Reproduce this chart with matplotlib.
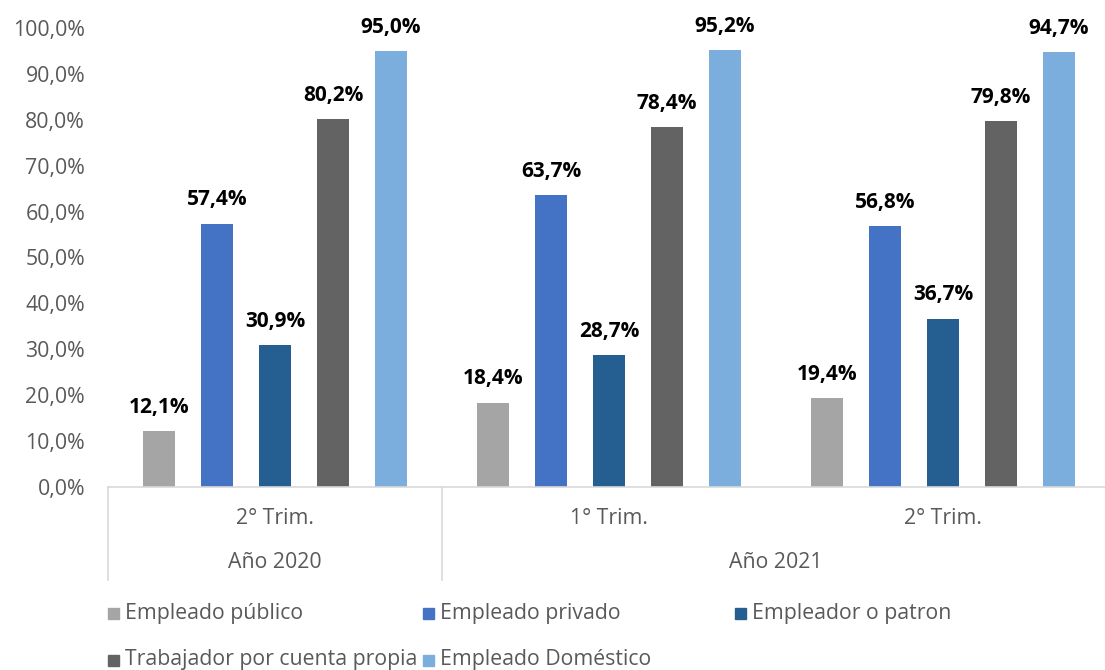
import matplotlib
matplotlib.use("Agg")
import matplotlib.pyplot as plt
from matplotlib.patches import Rectangle
from matplotlib.lines import Line2D

plt.rcParams['font.family'] = ['Open Sans', 'DejaVu Sans']

trimestres = ["2° Trim.", "1° Trim.", "2° Trim."]
anios = ["Año 2020", "Año 2021"]
anio_span = [(0, 1), (1, 3)]  # group index ranges for years
series = ["Empleado público", "Empleado privado", "Empleador o patron",
          "Trabajador por cuenta propia", "Empleado Doméstico"]
empleado_publico = [12.1, 18.4, 19.4]
empleado_privado = [57.4, 63.7, 56.8]
empleador_patron = [30.9, 28.7, 36.7]
cuenta_propia = [80.2, 78.4, 79.8]
empleado_domestico = [95.0, 95.2, 94.7]
values = [empleado_publico, empleado_privado, empleador_patron, cuenta_propia, empleado_domestico]
colors = ["#A5A5A5", "#4472C4", "#255E91", "#636363", "#7BAEDC"]
yticks = [0, 10, 20, 30, 40, 50, 60, 70, 80, 90, 100]

W, H = 1105, 670
fig = plt.figure(figsize=(W / 100, H / 100), dpi=100)
ax_l, ax_r, ax_b, ax_t = 108, 1110, 487, 28
ax = fig.add_axes([ax_l / W, (H - ax_b) / H, (ax_r - ax_l) / W, (ax_b - ax_t) / H])

step = 0.1735
bw = 0.096
for i, (vals, c) in enumerate(zip(values, colors)):
    xs = [g + (i - 2) * step for g in range(len(vals))]
    ax.bar(xs, vals, width=bw, color=c, edgecolor='none', zorder=2)
    for x, v in zip(xs, vals):
        ax.annotate(f"{v:.1f}%".replace('.', ','), (x, v), xytext=(0, 13),
                    textcoords='offset points', ha='center', va='baseline',
                    fontsize=15, fontweight='bold', color='black')

ax.set_xlim(-0.5, 2.5)
ax.set_ylim(0, 100)
ax.set_yticks(yticks)
ax.set_yticklabels([f"{t:.1f}%".replace('.', ',') for t in yticks], fontsize=15.3, color='#595959')
ax.tick_params(axis='y', length=0, pad=16.5)
ax.set_xticks([])
for s in ['top', 'right', 'left']:
    ax.spines[s].set_visible(False)
ax.spines['bottom'].set_color('#D9D9D9')
ax.spines['bottom'].set_linewidth(1.2)

# multi-level category axis
trans = ax.get_xaxis_transform()
px = 1.0 / (ax_b - ax_t)  # axes-fraction per pixel
for xb in [-0.5, 0.5, 2.5]:
    ax.add_line(Line2D([xb, xb], [0, -(580 - ax_b) * px], transform=trans,
                       color='#D9D9D9', lw=1.2, clip_on=False))
for g, t in enumerate(trimestres):
    ax.text(g, -(519 - ax_b) * px, t, transform=trans, ha='center', va='center',
            fontsize=15.3, color='#595959')
for (a, b), t in zip(anio_span, anios):
    ax.text((a + b - 1) / 2, -(563 - ax_b) * px, t, transform=trans, ha='center',
            va='center', fontsize=15.3, color='#595959')

# legend (row-wise, Excel style)
leg_pos = [(108, 613), (423, 613), (735, 613), (108, 660), (423, 660)]
for (lx, ly), name, c in zip(leg_pos, series, colors):
    fig.patches.append(Rectangle((lx / W, (H - ly - 5.5) / H), 11 / W, 11 / H,
                                 transform=fig.transFigure, color=c))
    fig.text((lx + 17) / W, (H - ly) / H, name, ha='left', va='center',
             fontsize=15.3, color='#595959')

fig.savefig("out.png", dpi=100)
